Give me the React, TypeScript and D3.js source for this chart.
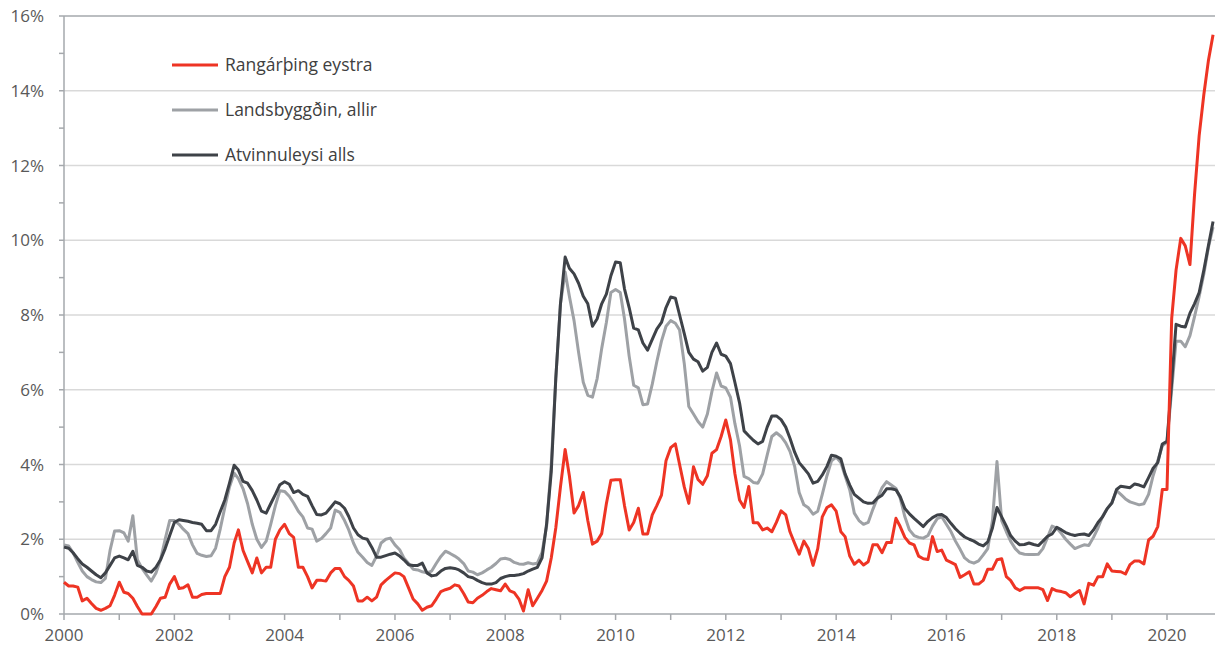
import React from 'react';
import * as d3 from 'd3';

// monthly values, Jan 2000 - Nov 2020 (%)
const rangarthing = [
    0.85, 0.75, 0.75, 0.72, 0.35, 0.42, 0.28, 0.15, 0.1, 0.15, 0.22, 0.5,
    0.85, 0.58, 0.55, 0.42, 0.2, 0.0, 0.0, 0.0, 0.2, 0.42, 0.45, 0.8,
    1.0, 0.68, 0.7, 0.78, 0.45, 0.45, 0.52, 0.55, 0.55, 0.55, 0.55, 1.0,
    1.25, 1.9, 2.25, 1.7, 1.4, 1.1, 1.5, 1.1, 1.25, 1.25, 2.0, 2.25,
    2.4, 2.15, 2.05, 1.25, 1.25, 1.0, 0.7, 0.9, 0.9, 0.88, 1.1, 1.22,
    1.22, 1.0, 0.9, 0.75, 0.35, 0.35, 0.45, 0.35, 0.45, 0.78, 0.9, 1.0,
    1.1, 1.08, 1.0, 0.7, 0.4, 0.27, 0.1, 0.18, 0.22, 0.4, 0.6, 0.65,
    0.69, 0.78, 0.75, 0.55, 0.32, 0.3, 0.42, 0.5, 0.6, 0.68, 0.65, 0.62,
    0.8, 0.62, 0.57, 0.4, 0.08, 0.65, 0.22, 0.42, 0.63, 0.88, 1.5, 2.3,
    3.4, 4.4, 3.7, 2.7, 2.9, 3.25, 2.5, 1.87, 1.95, 2.15, 2.95, 3.58,
    3.59, 3.59, 2.9, 2.25, 2.45, 2.83, 2.14, 2.14, 2.65, 2.9, 3.18, 4.1,
    4.45, 4.55, 4.0, 3.4, 2.96, 3.94, 3.6, 3.47, 3.7, 4.3, 4.4, 4.75,
    5.19, 4.66, 3.76, 3.05, 2.85, 3.41, 2.44, 2.44, 2.25, 2.3, 2.2, 2.45,
    2.76, 2.65, 2.2, 1.89, 1.6, 1.95, 1.75, 1.3, 1.75, 2.6, 2.85, 2.92,
    2.75, 2.2, 2.07, 1.55, 1.33, 1.44, 1.31, 1.4, 1.85, 1.85, 1.64, 1.91,
    1.91, 2.56, 2.34, 2.05, 1.9, 1.85, 1.55, 1.48, 1.46, 2.07, 1.67, 1.71,
    1.44, 1.38, 1.32, 0.98, 1.05, 1.13, 0.8, 0.8, 0.9, 1.2, 1.2, 1.45,
    1.48, 1.0, 0.9, 0.7, 0.63, 0.7, 0.7, 0.7, 0.7, 0.65, 0.36, 0.68,
    0.62, 0.6, 0.57, 0.46, 0.55, 0.63, 0.27, 0.82, 0.77, 1.0, 1.0, 1.34,
    1.15, 1.14, 1.13, 1.07, 1.32, 1.42, 1.42, 1.34, 1.98, 2.08, 2.34, 3.33,
    3.33, 7.9, 9.2, 10.05, 9.85, 9.35, 11.2, 12.8, 13.9, 14.8, 15.5
];

const landsbyggdin = [
    1.85, 1.82, 1.64, 1.38, 1.15, 1.0, 0.92, 0.86, 0.84, 0.95, 1.7, 2.22,
    2.23, 2.17, 1.95, 2.63, 1.45, 1.22, 1.05, 0.88, 1.1, 1.45, 2.0, 2.5,
    2.5, 2.4, 2.27, 2.15, 1.85, 1.62, 1.57, 1.54, 1.56, 1.76, 2.28, 2.85,
    3.4, 3.77, 3.62, 3.35, 2.95, 2.4, 2.0, 1.78, 1.95, 2.4, 2.9, 3.3,
    3.28, 3.15, 2.97, 2.75, 2.6, 2.3, 2.27, 1.95, 2.02, 2.15, 2.3, 2.78,
    2.72, 2.5, 2.25, 1.9, 1.65, 1.52, 1.38, 1.3, 1.55, 1.9, 2.0, 2.03,
    1.85, 1.72, 1.5, 1.35, 1.2, 1.18, 1.13, 1.1, 1.15, 1.35, 1.54, 1.68,
    1.62, 1.55, 1.47, 1.35, 1.15, 1.12, 1.05, 1.1, 1.18, 1.25, 1.35, 1.47,
    1.49, 1.46, 1.38, 1.34, 1.33, 1.37, 1.34, 1.36, 1.65, 2.34, 4.0, 6.3,
    8.3, 9.15, 8.5, 7.85, 7.0, 6.2, 5.85, 5.8, 6.3, 7.1, 7.8, 8.6,
    8.68, 8.6, 7.9, 6.9, 6.12, 6.05, 5.6, 5.62, 6.15, 6.75, 7.3, 7.7,
    7.85, 7.78, 7.6, 6.7, 5.55, 5.35, 5.15, 5.0, 5.35, 5.95, 6.45, 6.1,
    6.05, 5.8, 5.1, 4.5, 3.68, 3.62, 3.52, 3.5, 3.75, 4.25, 4.75, 4.85,
    4.75, 4.58, 4.35, 3.95, 3.25, 2.92, 2.84, 2.67, 2.75, 3.2, 3.7, 4.1,
    4.2, 4.05, 3.7, 3.32, 2.7, 2.5, 2.4, 2.45, 2.8, 3.1, 3.38, 3.54,
    3.45, 3.36, 3.1, 2.6, 2.25, 2.1, 2.05, 2.03, 2.1, 2.35, 2.55, 2.6,
    2.4, 2.2, 1.95, 1.73, 1.5, 1.4, 1.36, 1.42, 1.58, 1.75, 2.5, 4.08,
    2.5, 2.2, 1.95, 1.75, 1.63, 1.6, 1.59, 1.59, 1.6, 1.75, 2.05, 2.35,
    2.3, 2.15, 2.0, 1.87, 1.75, 1.8, 1.85, 1.83, 2.05, 2.3, 2.62, 2.82,
    2.98, 3.3, 3.2, 3.08, 3.0, 2.96, 2.92, 2.95, 3.2, 3.7, 4.1, 4.5,
    4.6, 6.0, 7.3, 7.3, 7.15, 7.45, 7.95, 8.5, 9.1, 9.8, 10.35
];

const atvinnuleysi = [
    1.79, 1.76, 1.64, 1.48, 1.34, 1.25, 1.15, 1.05, 0.97, 1.1, 1.3, 1.5,
    1.55, 1.5, 1.45, 1.68, 1.3, 1.25, 1.15, 1.12, 1.25, 1.45, 1.75, 2.1,
    2.45, 2.52, 2.5, 2.48, 2.45, 2.43, 2.4, 2.23, 2.23, 2.4, 2.74, 3.05,
    3.5, 3.98, 3.85, 3.55, 3.5, 3.3, 3.05, 2.75, 2.7, 2.95, 3.2, 3.46,
    3.54, 3.47, 3.25, 3.3, 3.2, 3.15, 2.9, 2.66, 2.65, 2.7, 2.85, 3.0,
    2.95, 2.83, 2.61, 2.3, 2.12, 2.03, 2.0, 1.78, 1.52, 1.52, 1.56, 1.6,
    1.63, 1.55, 1.45, 1.32, 1.3, 1.3, 1.36, 1.1, 1.02, 1.04, 1.15, 1.22,
    1.24, 1.22, 1.18, 1.1, 1.0, 0.97, 0.9, 0.84, 0.8, 0.8, 0.84, 0.95,
    1.0, 1.03, 1.03, 1.05, 1.08, 1.15, 1.2, 1.25, 1.5, 2.4, 3.8, 6.3,
    8.3, 9.55, 9.25, 9.1, 8.85, 8.5, 8.3, 7.7, 7.9, 8.3, 8.56, 9.05,
    9.42, 9.4, 8.7, 8.2, 7.65, 7.6, 7.25, 7.06, 7.35, 7.62, 7.8, 8.2,
    8.48, 8.45, 8.0, 7.5, 7.0, 6.82, 6.75, 6.5, 6.6, 7.0, 7.25, 6.95,
    6.9, 6.7, 6.2, 5.65, 4.9, 4.77, 4.65, 4.55, 4.62, 5.0, 5.3, 5.3,
    5.2, 5.0, 4.7, 4.33, 4.05, 3.9, 3.75, 3.5, 3.55, 3.72, 3.95, 4.25,
    4.22, 4.15, 3.75, 3.45, 3.2, 3.1, 3.0, 2.96, 2.97, 3.1, 3.18, 3.35,
    3.35, 3.32, 3.14, 2.82, 2.68, 2.56, 2.45, 2.34, 2.48, 2.58, 2.65, 2.66,
    2.58, 2.42, 2.28, 2.16, 2.06, 2.0, 1.95, 1.87, 1.82, 1.93, 2.3, 2.85,
    2.6, 2.35, 2.1, 1.95, 1.85, 1.86, 1.9, 1.86, 1.83, 1.95, 2.08, 2.14,
    2.32, 2.25, 2.18, 2.13, 2.1, 2.13, 2.14, 2.1, 2.25, 2.45, 2.6, 2.82,
    2.97, 3.33, 3.42, 3.4, 3.38, 3.48, 3.45, 3.4, 3.65, 3.9, 4.05, 4.55,
    4.62, 6.2, 7.75, 7.7, 7.68, 8.05, 8.3, 8.6, 9.2, 9.85, 10.5
];

const SERIES = [
    { name: "Rangárþing eystra", values: rangarthing, color: "#EE3424" },
    { name: "Landsbyggðin, allir", values: landsbyggdin, color: "#9EA1A5" },
    { name: "Atvinnuleysi alls", values: atvinnuleysi, color: "#3E4248" },
];

const Y_TICKS = [0, 2, 4, 6, 8, 10, 12, 14, 16];
const X_LABEL_YEARS = [2000, 2002, 2004, 2006, 2008, 2010, 2012, 2014, 2016, 2018, 2020];

const START = new Date(2000, 0, 1);
const months = d3.range(rangarthing.length).map(i => d3.timeMonth.offset(START, i));

export default function App() {
    const width = 1215;
    const height = 646;
    const left = 64;

    const xScale = d3.scaleTime()
        .domain([START, new Date(2020, 0, 1)])
        .range([left, 1167]);
    const yScale = d3.scaleLinear().domain([0, 16]).range([614, 16]);

    const yearTicks = d3.timeYear.range(START, new Date(2021, 0, 2));
    const minorY = d3.range(1, 16, 2);

    const line = d3.line<number>()
        .x((d, i) => xScale(months[i]))
        .y(d => yScale(d));

    const font = "'Open Sans', 'Liberation Sans', sans-serif";
    const axisColor = "#A5A8AC";

    return (
        <svg width={width} height={height} style={{ position: 'absolute', left: 0, top: 0, background: '#fff' }}>
            {/* gridlines */}
            {Y_TICKS.filter(t => t > 0 && t < 16).map(t => (
                <line key={'g' + t} x1={left} x2={width} y1={yScale(t)} y2={yScale(t)} stroke="#D9D9D9" strokeWidth={1.5} />
            ))}
            <line x1={left} x2={width} y1={yScale(16)} y2={yScale(16)} stroke={axisColor} strokeWidth={1.5} />

            {/* y axis */}
            <line x1={left} x2={left} y1={yScale(16)} y2={yScale(0)} stroke={axisColor} strokeWidth={1.5} />
            {Y_TICKS.concat(minorY).map(t => (
                <line key={'yt' + t} x1={left - 5} x2={left} y1={yScale(t)} y2={yScale(t)} stroke={axisColor} strokeWidth={1.5} />
            ))}
            {Y_TICKS.map(t => (
                <text key={'yl' + t} x={44} y={yScale(t) + 6} textAnchor="end" fontFamily={font} fontSize={17} fill="#595959">
                    {t + '%'}
                </text>
            ))}

            {/* x axis */}
            <line x1={left} x2={width} y1={yScale(0)} y2={yScale(0)} stroke={axisColor} strokeWidth={1.5} />
            {yearTicks.map(d => (
                <line key={'xt' + d.getFullYear()} x1={xScale(d)} x2={xScale(d)} y1={yScale(0)} y2={yScale(0) + 6} stroke={axisColor} strokeWidth={1.5} />
            ))}
            {X_LABEL_YEARS.map(yr => (
                <text key={'xl' + yr} x={xScale(new Date(yr, 0, 1))} y={641} textAnchor="middle" fontFamily={font} fontSize={17} fill="#595959">
                    {yr}
                </text>
            ))}

            {/* lines, drawn so red is on top */}
            {[SERIES[1], SERIES[2], SERIES[0]].map(s => (
                <path key={s.name} d={line(s.values) || ''} fill="none" stroke={s.color} strokeWidth={3} strokeLinejoin="round" />
            ))}

            {/* legend */}
            {SERIES.map((s, i) => (
                <g key={'lg' + i} transform={`translate(172, ${65 + i * 45})`}>
                    <line x1={0} x2={46} y1={0} y2={0} stroke={s.color} strokeWidth={3} />
                    <text x={53} y={6} fontFamily={font} fontSize={17.5} fill="#404040">{s.name}</text>
                </g>
            ))}
        </svg>
    );
}
